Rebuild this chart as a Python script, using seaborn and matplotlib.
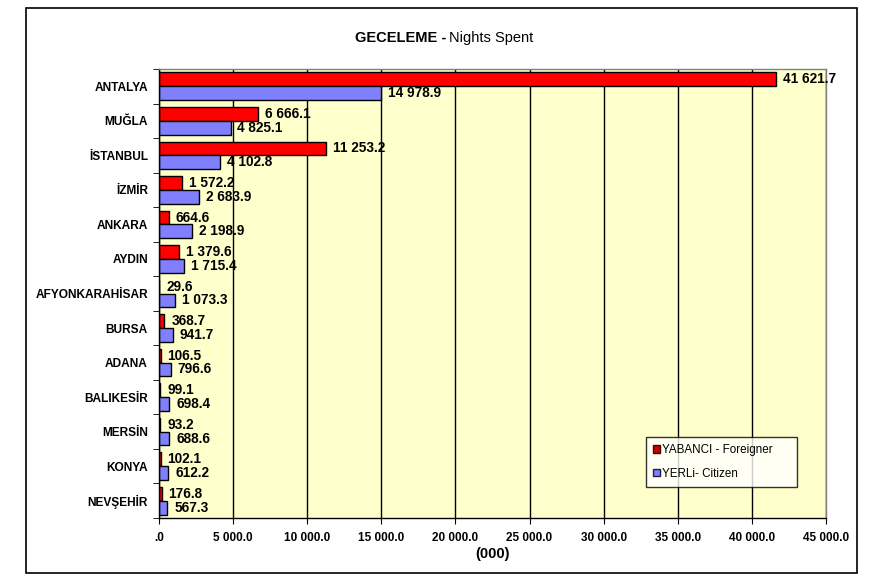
import matplotlib
matplotlib.use("Agg")
import matplotlib.pyplot as plt
from matplotlib.patches import Rectangle, Patch
from matplotlib.ticker import FixedLocator
import seaborn as sns
import pandas as pd
import numpy as np

cities = ["ANTALYA", "MUĞLA", "İSTANBUL", "İZMİR", "ANKARA", "AYDIN",
          "AFYONKARAHİSAR", "BURSA", "ADANA", "BALIKESİR", "MERSİN",
          "KONYA", "NEVŞEHİR"]
foreign = [41621.7, 6666.1, 11253.2, 1572.2, 664.6, 1379.6, 29.6, 368.7,
           106.5, 99.1, 93.2, 102.1, 176.8]
citizen = [14978.9, 4825.1, 4102.8, 2683.9, 2198.9, 1715.4, 1073.3, 941.7,
           796.6, 698.4, 688.6, 612.2, 567.3]
series_names = ["YABANCI - Foreigner", "YERLi- Citizen"]
xticks = list(range(0, 45001, 5000))

plt.rcParams['font.family'] = ['Liberation Sans', 'DejaVu Sans']

df = pd.DataFrame({
    "city": cities * 2,
    "value": foreign + citizen,
    "series": [series_names[0]] * len(cities) + [series_names[1]] * len(cities),
})

fig = plt.figure(figsize=(8.69, 5.81), dpi=100)
ax = fig.add_axes([159/869, 1-518/581, (826-159)/869, (518-69)/581])
ax.set_facecolor("#FFFFCC")

sns.barplot(data=df, x="value", y="city", hue="series", order=cities,
            hue_order=series_names, palette=["#FF0000", "#8080FF"],
            orient="h", width=0.8, edgecolor="black", linewidth=1.0,
            saturation=1, ax=ax, legend=False, errorbar=None)

def fmt(v):
    if v == 0:
        return ".0"
    return f"{v:,.1f}".replace(",", " ")

for cont, vals in zip(ax.containers, [foreign, citizen]):
    ax.bar_label(cont, labels=[fmt(v) for v in vals], padding=5,
                 fontsize=9.8, fontweight="bold")

ax.set_xlim(0, 45000)
ax.set_ylim(len(cities) - 0.5, -0.5)
ax.set_xticks(xticks)
ax.set_xticklabels([fmt(v) for v in xticks], fontsize=8.5, fontweight="bold")
ax.set_yticks(range(len(cities)))
ax.set_yticklabels(cities, fontsize=8.6, fontweight="bold")
ax.yaxis.set_minor_locator(FixedLocator(np.arange(-0.5, len(cities), 1)))
ax.tick_params(axis="y", which="major", length=0, pad=8)
ax.tick_params(axis="y", which="minor", length=4, color="black")
ax.tick_params(axis="x", length=4, color="black", pad=6)
ax.set_ylabel("")
ax.set_xlabel("(000)", fontsize=10.5, fontweight="bold", labelpad=2)

ax.grid(axis="x", color="black", linewidth=1)
ax.grid(axis="y", visible=False)
ax.set_axisbelow(True)
for s in ["left", "bottom"]:
    ax.spines[s].set_color("black")
    ax.spines[s].set_linewidth(1)
for s in ["top", "right"]:
    ax.spines[s].set_color("#808080")
    ax.spines[s].set_linewidth(1)

handles = [Patch(facecolor="#CC0000", edgecolor="#400000"),
           Patch(facecolor="#8080FF", edgecolor="#202040")]
leg = ax.legend(handles, series_names, loc="upper left",
                bbox_to_anchor=((646-159)/667, (518-437)/449, (797-646)/667, 0),
                mode="expand", fontsize=8.4, frameon=True, fancybox=False,
                handlelength=0.6, handleheight=0.6, handletextpad=0.15,
                labelspacing=1.0, borderpad=0.6, borderaxespad=0)
leg.get_frame().set_edgecolor("black")
leg.get_frame().set_linewidth(1)
leg.get_frame().set_facecolor("white")

fig.text(446/869, 1-38/581, "GECELEME -", ha="right", va="center",
         fontsize=10.5, fontweight="bold")
fig.text(449/869, 1-38/581, "Nights Spent", ha="left", va="center",
         fontsize=10.5)

fig.patches.append(Rectangle((26/869, 1-573/581), (857-26)/869, (573-8)/581,
                             transform=fig.transFigure, fill=False,
                             edgecolor="black", linewidth=1.2))

fig.savefig("out.png", dpi=100)
